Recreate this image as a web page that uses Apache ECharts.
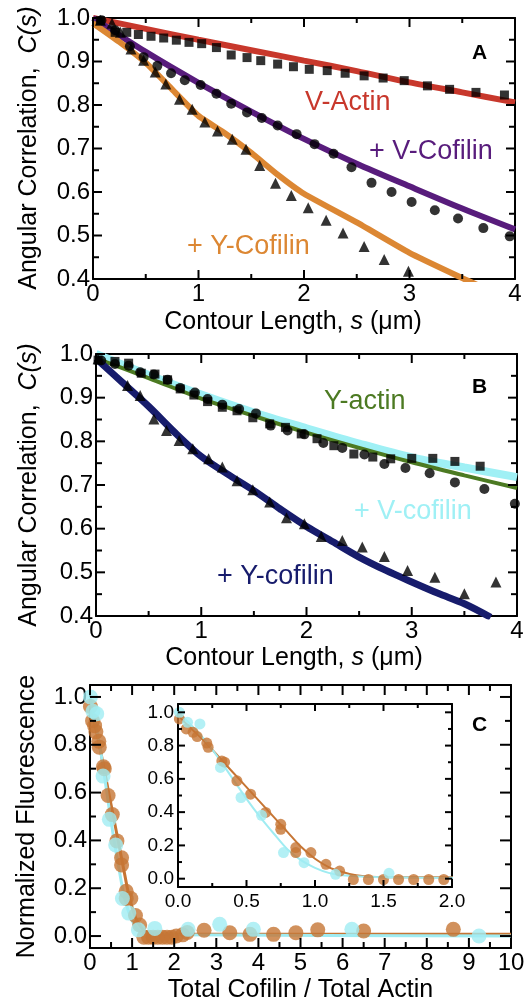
<!DOCTYPE html>
<html>
<head>
<meta charset="utf-8">
<script src="https://cdn.jsdelivr.net/npm/echarts@6/dist/echarts.min.js"></script>
<style>
  html, body { margin: 0; padding: 0; background: #fff; }
  #chart { width: 530px; height: 1005px; }
</style>
</head>
<body>
<div id="chart"></div>
<script>
// ---- panel A: angular correlation, V-actin family
const aXTicks = [0, 1, 2, 3, 4];
const aYTicks = [0.4, 0.5, 0.6, 0.7, 0.8, 0.9, 1.0];

const vActinPts = [[0.07,0.994],[0.21,0.967],[0.32,0.967],[0.43,0.962],[0.55,0.958],[0.67,0.954],[0.79,0.949],[0.91,0.944],[1.03,0.941],[1.17,0.932],[1.31,0.915],[1.46,0.909],[1.59,0.902],[1.75,0.894],[1.90,0.888],[2.05,0.882],[2.22,0.879],[2.39,0.873],[2.57,0.867],[2.75,0.862],[2.95,0.856],[3.17,0.844],[3.38,0.836],[3.63,0.829],[3.90,0.823]];
const vActinFit = [[0,1],[0.5,0.975],[1,0.95],[1.5,0.926],[2,0.902],[2.5,0.878],[3,0.852],[3.5,0.829],[4,0.806]];

const vCofPts = [[0.08,0.995],[0.21,0.972],[0.35,0.935],[0.48,0.91],[0.61,0.89],[0.74,0.873],[0.87,0.857],[1.02,0.846],[1.17,0.826],[1.31,0.803],[1.46,0.783],[1.60,0.770],[1.75,0.753],[1.93,0.733],[2.10,0.710],[2.28,0.688],[2.45,0.657],[2.64,0.621],[2.83,0.600],[3.02,0.577],[3.24,0.558],[3.46,0.539],[3.70,0.517],[3.95,0.498]];
const vCofFit = [[0,1],[0.5,0.922],[1,0.851],[1.5,0.785],[2,0.722],[2.5,0.665],[3,0.613],[3.5,0.562],[4,0.514]];

const yCofPtsA = [[0.07,0.995],[0.18,0.988],[0.26,0.967],[0.36,0.929],[0.48,0.903],[0.59,0.876],[0.69,0.848],[0.82,0.813],[0.94,0.790],[1.06,0.761],[1.18,0.740],[1.32,0.721],[1.45,0.698],[1.58,0.661],[1.73,0.620],[1.88,0.592],[2.04,0.564],[2.21,0.535],[2.37,0.506],[2.57,0.475],[2.76,0.445],[2.99,0.418]];
const yCofFitA = [[0,0.988],[0.25,0.945],[0.5,0.897],[0.75,0.836],[1,0.775],[1.25,0.735],[1.5,0.69],[1.75,0.64],[2,0.596],[2.5,0.53],[3,0.46],[3.5,0.402],[3.7,0.38]];

// ---- panel B: Y-actin family
const bXTicks = [0, 1, 2, 3, 4];
const bYTicks = [0.4, 0.5, 0.6, 0.7, 0.8, 0.9, 1.0];

const yActinPts = [[0.02,0.986],[0.18,0.983],[0.31,0.979],[0.43,0.956],[0.56,0.954],[0.68,0.941],[0.80,0.920],[0.93,0.906],[1.06,0.891],[1.20,0.878],[1.34,0.870],[1.49,0.854],[1.65,0.840],[1.80,0.832],[1.95,0.817],[2.10,0.806],[2.26,0.790],[2.45,0.771],[2.63,0.764],[2.80,0.760],[3.00,0.761],[3.20,0.761],[3.41,0.754],[3.65,0.743]];
const yActinFit = [[0,0.99],[0.5,0.945],[1,0.898],[1.5,0.858],[2,0.82],[2.5,0.785],[3,0.752],[3.5,0.722],[4,0.693]];

const vCofPtsB = [[0.05,0.985],[0.18,0.977],[0.31,0.973],[0.42,0.958],[0.55,0.953],[0.68,0.941],[0.80,0.922],[0.94,0.912],[1.06,0.897],[1.20,0.884],[1.36,0.874],[1.52,0.864],[1.66,0.836],[1.82,0.825],[1.98,0.816],[2.16,0.796],[2.34,0.785],[2.55,0.770],[2.74,0.748],[2.94,0.739],[3.17,0.727],[3.41,0.706],[3.69,0.691],[3.98,0.657]];
const vCofFitB = [[0,1],[0.5,0.952],[1,0.907],[1.5,0.866],[2,0.83],[2.5,0.795],[3,0.763],[3.5,0.74],[4,0.718]];

const yCofPtsB = [[0.02,0.989],[0.30,0.928],[0.42,0.905],[0.55,0.851],[0.67,0.825],[0.79,0.802],[0.92,0.783],[1.07,0.760],[1.20,0.741],[1.34,0.710],[1.49,0.689],[1.65,0.661],[1.81,0.625],[1.98,0.611],[2.14,0.582],[2.34,0.573],[2.53,0.558],[2.74,0.536],[2.96,0.504],[3.22,0.489],[3.50,0.451],[3.80,0.478]];
const yCofFitB = [[0,0.99],[0.25,0.935],[0.5,0.88],[0.75,0.82],[1,0.765],[1.25,0.725],[1.5,0.687],[1.75,0.645],[2,0.605],[2.25,0.57],[2.5,0.535],[2.75,0.505],[3,0.478],[3.25,0.452],[3.5,0.428],[3.75,0.397]];

// ---- panel C: fluorescence vs cofilin/actin ratio (frame runs -0.05..1.05 in y)
const cXTicks = [0, 1, 2, 3, 4, 5, 6, 7, 8, 9, 10];
const cYTicks = [0, 0.2, 0.4, 0.6, 0.8, 1.0];
const insetXTicks = [0, 0.5, 1.0, 1.5, 2.0];
const insetYTicks = [0, 0.2, 0.4, 0.6, 0.8, 1.0];
const cYFrame = [-0.05, 1.05];

const yCofFluor = [[0.01,0.96],[0.06,0.90],[0.11,0.88],[0.14,0.854],[0.21,0.815],[0.22,0.79],[0.32,0.708],[0.34,0.70],[0.43,0.588],[0.53,0.508],[0.64,0.398],[0.75,0.327],[0.75,0.297],[0.86,0.187],[0.86,0.157],[0.97,0.157],[1.08,0.086],[1.18,0.046],[1.28,-0.005],[1.39,-0.005],[1.50,-0.005],[1.61,-0.005],[1.72,-0.005],[1.83,-0.005],[1.94,-0.005],[2.05,0.0],[2.2,0.005],[2.31,0.015],[2.71,0.024],[3.32,0.014],[3.80,0.007],[4.36,0.007],[4.89,0.014],[5.41,0.026],[6.50,0.021],[8.63,0.028]];
const yCofFluorFit = [[0,0.98],[0.1,0.9],[0.2,0.82],[0.3,0.73],[0.4,0.64],[0.5,0.55],[0.6,0.46],[0.7,0.37],[0.8,0.28],[0.9,0.19],[1.0,0.12],[1.1,0.07],[1.2,0.04],[1.3,0.02],[1.4,0.012],[1.6,0.008],[2,0.008],[10,0.008]];

const vCofFluor = [[0.01,1.0],[0.07,0.94],[0.16,0.93],[0.31,0.669],[0.46,0.488],[0.61,0.381],[0.77,0.157],[0.92,0.096],[1.15,0.026],[1.54,0.032],[2.33,0.028],[3.08,0.049],[3.88,0.028],[6.22,0.028],[9.24,0.0]];
const vCofFluorFit = [[0,1.0],[0.1,0.92],[0.2,0.83],[0.3,0.72],[0.4,0.6],[0.5,0.48],[0.6,0.37],[0.7,0.27],[0.8,0.175],[0.9,0.11],[1.0,0.065],[1.1,0.035],[1.2,0.02],[1.4,0.01],[2,0.005],[10,0.0]];

const FONT = '"Liberation Sans", Arial, sans-serif';
const BLACK = '#000';
const step = t => Math.round((t[1] - t[0]) * 1000) / 1000;
const last = a => a[a.length - 1];
const mids = t => t.slice(1).map((v, i) => (v + t[i]) / 2);

// main axis + mirrored axis on the opposite side (frame line and labels only; ticks come from tickSeries)
function axisPair(dim, grid, min, max, interval, o) {
  const pos = dim === 'x' ? ['bottom', 'top'] : ['left', 'right'];
  const mk = (p, main) => ({
    type: 'value', gridIndex: grid, min: min, max: max, interval: interval, position: p,
    show: o.show !== false,
    splitLine: { show: false },
    axisLine: { show: !!o.line, onZero: false, lineStyle: { color: BLACK, width: 2 } },
    axisTick: { show: false },
    minorTick: { show: false },
    axisLabel: { show: main && !!o.labels, formatter: o.fmt, margin: o.margin || 3, fontSize: o.fs || 24, color: BLACK, fontFamily: FONT },
    name: main ? (o.name || '') : '',
    nameLocation: 'middle', nameGap: o.gap || 0, nameRotate: dim === 'y' ? 90 : 0,
    nameTextStyle: { fontFamily: FONT, fontSize: 25, color: BLACK }
  });
  return [mk(pos[0], true), mk(pos[1], false)];
}

const f1 = v => v.toFixed(1);
const f0 = v => String(Math.round(v));

// grids: 0 A, 1 B, 2 C frame, 3 C y-labels, 4 inset frame, 5 inset y-labels
const xAxes = [].concat(
  axisPair('x', 0, aXTicks[0], last(aXTicks), step(aXTicks), { line: true, labels: true, fmt: f0 }),
  axisPair('x', 1, bXTicks[0], last(bXTicks), step(bXTicks), { line: true, labels: true, fmt: f0 }),
  axisPair('x', 2, cXTicks[0], last(cXTicks), step(cXTicks), { line: true, labels: true, fmt: f0, name: 'Total Cofilin / Total Actin', gap: 30 }),
  axisPair('x', 3, cXTicks[0], last(cXTicks), step(cXTicks), { show: false }),
  axisPair('x', 4, insetXTicks[0], last(insetXTicks), step(insetXTicks), { line: true, labels: true, fmt: f1, fs: 19, margin: 5 }),
  axisPair('x', 5, insetXTicks[0], last(insetXTicks), step(insetXTicks), { show: false })
);
const yAxes = [].concat(
  axisPair('y', 0, aYTicks[0], last(aYTicks), step(aYTicks), { line: true, labels: true, fmt: f1 }),
  axisPair('y', 1, bYTicks[0], last(bYTicks), step(bYTicks), { line: true, labels: true, fmt: f1 }),
  axisPair('y', 2, cYFrame[0], cYFrame[1], null, { line: true, labels: false, name: 'Normalized Fluorescence', gap: 50 }),
  axisPair('y', 3, cYTicks[0], last(cYTicks), step(cYTicks), { line: false, labels: true, fmt: f1 }),
  axisPair('y', 4, cYFrame[0], cYFrame[1], null, { line: true, labels: false }),
  axisPair('y', 5, insetYTicks[0], last(insetYTicks), step(insetYTicks), { line: false, labels: true, fmt: f1, fs: 19, margin: 4 })
);

function fit(g, data, color, width, smooth) {
  return { type: 'line', xAxisIndex: g * 2, yAxisIndex: g * 2, data: data, smooth: smooth === undefined ? 0.3 : smooth, showSymbol: false,
    lineStyle: { color: color, width: width }, z: 2, silent: true };
}
function pts(g, data, symbol, size, color) {
  return { type: 'scatter', xAxisIndex: g * 2, yAxisIndex: g * 2, data: data, symbol: symbol, symbolSize: size,
    itemStyle: { color: color }, z: 3, silent: true };
}

// inward ticks on all four sides of a frame, placed through the frame's own axes
function tickSeries(g, xs, ys, lx, ly) {
  const data = [].concat(
    xs.map(v => [v, 0, lx[0]]), mids(xs).map(v => [v, 0, lx[1]]),
    ys.map(v => [v, 1, ly[0]]), mids(ys).map(v => [v, 1, ly[1]])
  );
  return {
    type: 'custom', xAxisIndex: g * 2, yAxisIndex: g * 2, data: data, z: 4, silent: true, clip: false,
    renderItem: function (params, api) {
      const cs = params.coordSys;
      const v = api.value(0), dir = api.value(1), len = api.value(2);
      const st = { fill: BLACK };
      if (dir === 0) {
        const px = api.coord([v, v])[0];
        return { type: 'group', children: [
          { type: 'rect', shape: { x: px - 1, y: cs.y + cs.height - len, width: 2, height: len }, style: st },
          { type: 'rect', shape: { x: px - 1, y: cs.y, width: 2, height: len }, style: st }
        ] };
      }
      const py = api.coord([v, v])[1];
      return { type: 'group', children: [
        { type: 'rect', shape: { x: cs.x, y: py - 1, width: len, height: 2 }, style: st },
        { type: 'rect', shape: { x: cs.x + cs.width - len, y: py - 1, width: len, height: 2 }, style: st }
      ] };
    }
  };
}

const RED = '#c8382c', PURPLE = '#581c7c', ORANGE = '#dc8733';
const GREEN = '#4c7a22', CYAN = '#9ff0f5', NAVY = '#171c6c';
const BROWN = '#c67534', AQUA = '#a0ecf2';

const series = [
  fit(0, vActinFit, RED, 6), fit(0, vCofFit, PURPLE, 6), fit(0, yCofFitA, ORANGE, 6, 0.15),
  pts(0, vActinPts, 'rect', 9, BLACK), pts(0, vCofPts, 'circle', 10, BLACK), pts(0, yCofPtsA, 'triangle', 11, BLACK),
  tickSeries(0, aXTicks, aYTicks, [9, 5], [9, 6]),

  fit(1, vCofFitB, CYAN, 8), fit(1, yActinFit, GREEN, 4), fit(1, yCofFitB, NAVY, 7),
  pts(1, yActinPts, 'rect', 9, BLACK), pts(1, vCofPtsB, 'circle', 10, BLACK), pts(1, yCofPtsB, 'triangle', 11, BLACK),
  tickSeries(1, bXTicks, bYTicks, [9, 5], [9, 6]),

  pts(2, yCofFluor, 'circle', 15, BROWN), fit(2, yCofFluorFit, BROWN, 3),
  pts(2, vCofFluor, 'circle', 15, AQUA), fit(2, vCofFluorFit, AQUA, 3),
  tickSeries(2, cXTicks, cYTicks, [10, 6], [11, 6]),

  pts(4, yCofFluor, 'circle', 11, BROWN), fit(4, yCofFluorFit, BROWN, 2),
  pts(4, vCofFluor, 'circle', 11, AQUA), fit(4, vCofFluorFit, AQUA, 2),
  tickSeries(4, insetXTicks, insetYTicks, [7, 4], [7, 4])
];

let noteId = 0;
function note(text, x, y, color, size, weight) {
  return { type: 'text', id: 'note' + (noteId++), x: x, y: y, z: 10, style: { text: text, fill: color,
    font: (weight || 'normal') + ' ' + size + 'px ' + FONT, textAlign: 'left', textVerticalAlign: 'middle' } };
}
// axis titles with an italic part
const richTitle = {
  n: { fontFamily: FONT, fontSize: 25, fill: BLACK, color: BLACK },
  i: { fontFamily: FONT, fontSize: 25, fill: BLACK, color: BLACK, fontStyle: 'italic' }
};
function title(text, x, y, rotate) {
  return { type: 'text', id: 'title' + (noteId++), x: x, y: y, rotation: rotate ? Math.PI / 2 : 0, z: 10,
    style: { text: text, rich: richTitle, fill: BLACK, font: '25px ' + FONT,
      textAlign: 'center', textVerticalAlign: 'middle', align: 'center', verticalAlign: 'middle' } };
}
const contour = '{n|Contour Length, }{i|s}{n| (\u03bcm)}';
const angular = '{n|Angular Correlation,  }{i|C(s)}';

function frameGrid(left, right, top, height) {
  return { left: left, right: right, top: top, height: height, outerBoundsMode: 'none' };
}
// the label grids cover only 0..1 of the frames, whose y range is cYFrame
function inner(left, right, top, height) {
  const span = cYFrame[1] - cYFrame[0];
  return frameGrid(left, right, top + height * (cYFrame[1] - 1) / span, height / span);
}

const chart = echarts.init(document.getElementById('chart'), null, { renderer: 'canvas' });
chart.setOption({
  animation: false,
  backgroundColor: '#fff',
  grid: [
    frameGrid(93, 15, 18, 261),
    frameGrid(96, 13, 354, 262),
    frameGrid(90, 19, 685, 263),
    inner(90, 19, 685, 263),
    frameGrid(178, 78, 704, 183),
    inner(178, 78, 704, 183)
  ],
  xAxis: xAxes,
  yAxis: yAxes,
  series: series,
  graphic: [
    title(angular, 29, 148, true),
    title(contour, 293, 322, false),
    title(angular, 29, 485, true),
    title(contour, 294, 658, false),
    note('A', 472, 53, BLACK, 21, 'bold'),
    note('V-Actin', 305, 103, RED, 27),
    note('+ V-Cofilin', 369, 152, PURPLE, 27),
    note('+ Y-Cofilin', 187, 247, ORANGE, 27),
    note('B', 472, 387, BLACK, 21, 'bold'),
    note('Y-actin', 324, 402, GREEN, 27),
    note('+ V-cofilin', 354, 512, CYAN, 27),
    note('+ Y-cofilin', 217, 577, NAVY, 27),
    note('C', 472, 725, BLACK, 21, 'bold')
  ]
});
</script>
</body>
</html>
